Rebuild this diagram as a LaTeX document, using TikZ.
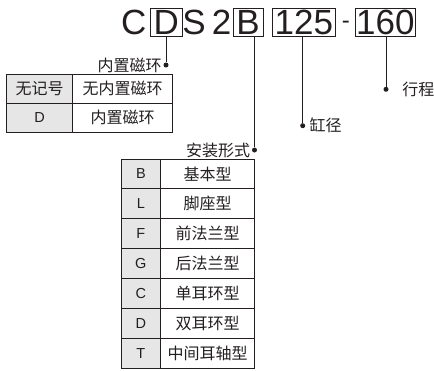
\documentclass[tikz,border=0pt]{standalone}
\usepackage{fontspec}
\setmainfont{Liberation Sans}
\newfontfamily\cjk{Noto Sans CJK SC}
\newcommand\cjktext{\cjk\fontsize{16}{16}\selectfont}
\definecolor{ink}{HTML}{231F20}
\definecolor{cellgray}{HTML}{E6E6E6}
\tikzset{
  codechar/.style={inner sep=0pt, text height=25pt, text depth=0pt, text=ink,
    font=\fontsize{35}{35}\selectfont},
  codebox/.style={codechar, draw=ink, line width=0.9pt, minimum height=28.7pt},
  pin/.style={circle, fill=ink, inner sep=0pt, minimum size=5pt},
  lead/.style={draw=ink, line width=0.8pt},
  tag/.style={inner sep=0pt, text=ink, font=\cjktext},
  keycell/.style={draw=ink, fill=cellgray, line width=1pt, inner sep=0pt, text=ink,
    font=\fontsize{14.5}{14.5}\selectfont},
  desccell/.style={draw=ink, line width=1pt, inner sep=0pt, text=ink, font=\cjktext}
}
\begin{document}
\begin{tikzpicture}[x=1pt, y=-1pt]
  \useasboundingbox (0,0) rectangle (434,370);
  % model code
  \node [codechar] (c) at (133.8,22.3) {C};
  \node [codebox, minimum width=32.7pt] (dbox) at (166.3,22.3) {D};
  \node [codechar] (s) at (194,22.3) {S};
  \node [codechar] (two) at (221.7,22.3) {2};
  \node [codebox, minimum width=30pt] (bbox) at (248,22.3) {B};
  \node [codebox, minimum width=62.3pt] (borebox) at (303.8,22.3) {125};
  \node [inner sep=0pt, text=ink, font=\fontsize{24}{24}\selectfont] (dash) at (345.8,25) {-};
  \node [codebox, minimum width=59.3pt] (strokebox) at (385.4,22.3) {160};
  % pins and labels
  \node [pin] (ddot) at (166,65) {};
  \node [pin] (bdot) at (254.5,150) {};
  \node [pin] (cdot) at (302.7,125.7) {};
  \node [pin] (sdot) at (386,89.3) {};
  \draw [lead] (dbox.south -| ddot) -- (ddot);
  \draw [lead] (bbox.south -| bdot) -- (bdot);
  \draw [lead] (borebox.south -| cdot) -- (cdot);
  \draw [lead] (strokebox.south -| sdot) -- (sdot);
  \node [tag, anchor=east] (dtag) at ([xshift=-1.5pt]ddot.west) {内置磁环};
  \node [tag, anchor=east] (btag) at ([xshift=-1.5pt]bdot.west) {安装形式};
  \node [tag, anchor=west] (ctag) at ([xshift=4pt]cdot.east) {缸径};
  \node [tag, anchor=west] (stag) at ([xshift=13.5pt]sdot.east) {行程};
  % magnet table
  \foreach \code/\desc [count=\i] in {{\cjktext 无记号}/无内置磁环, D/内置磁环} {
    \node [keycell, minimum width=66pt, minimum height=29pt] (mk\i) at (39.7,59.75+29*\i) {\code};
    \node [desccell, minimum width=100pt, minimum height=29pt] (md\i) at (122.7,59.75+29*\i) {\desc};
  }
  % mounting table
  \foreach \code/\desc [count=\i] in {B/基本型, L/脚座型, F/前法兰型, G/后法兰型, C/单耳环型, D/双耳环型, T/中间耳轴型} {
    \node [keycell, minimum width=39.7pt, minimum height=29.9pt] (tk\i) at (140.85,144.05+29.9*\i) {\code};
    \node [desccell, minimum width=93.6pt, minimum height=29.9pt] (td\i) at (207.5,144.05+29.9*\i) {\desc};
  }
\end{tikzpicture}
\end{document}
